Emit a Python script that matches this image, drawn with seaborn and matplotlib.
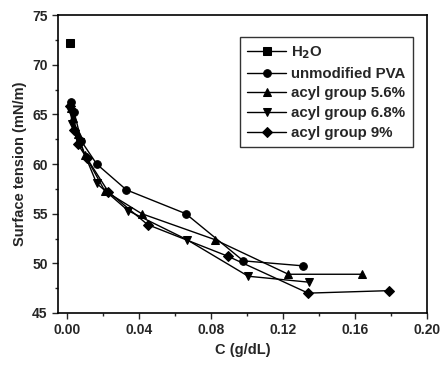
import numpy as np
import pandas as pd
import matplotlib
matplotlib.use("Agg")
import matplotlib.pyplot as plt
import seaborn as sns
from matplotlib.ticker import MultipleLocator

# values
h2o_c = [0.0015]
h2o_st = [72.2]

pva_c = [0.0025, 0.004, 0.008, 0.0165, 0.033, 0.066, 0.098, 0.131]
pva_st = [66.2, 65.2, 62.3, 60.0, 57.4, 55.0, 50.25, 49.75]

acyl56_c = [0.002, 0.0035, 0.006, 0.010, 0.021, 0.0415, 0.082, 0.123, 0.164]
acyl56_st = [65.6, 64.6, 63.0, 60.9, 57.3, 55.0, 52.4, 48.9, 48.9]

acyl68_c = [0.002, 0.003, 0.007, 0.0165, 0.034, 0.0665, 0.1007, 0.1346]
acyl68_st = [65.2, 64.0, 62.2, 58.05, 55.3, 52.4, 48.7, 48.1]

acyl9_c = [0.0018, 0.004, 0.006, 0.011, 0.023, 0.0448, 0.0896, 0.134, 0.179]
acyl9_st = [65.8, 63.4, 62.0, 60.6, 57.2, 53.9, 50.7, 47.0, 47.25]

series = [
    ("H$_2$O", h2o_c, h2o_st, "s"),
    ("unmodified PVA", pva_c, pva_st, "o"),
    ("acyl group 5.6%", acyl56_c, acyl56_st, "^"),
    ("acyl group 6.8%", acyl68_c, acyl68_st, "v"),
    ("acyl group 9%", acyl9_c, acyl9_st, "D"),
]

sns.set_style("ticks")
plt.rcParams["font.family"] = ["Liberation Sans", "DejaVu Sans"]
plt.rcParams["font.weight"] = "bold"

fig = plt.figure(figsize=(4.41, 3.68), dpi=100)
ax = fig.add_axes([0.1315, 0.1495, 0.8365, 0.8095])

for name, c, st, m in series:
    df = pd.DataFrame({"c": c, "st": st})
    ms = 5 if m == "D" else 5.5
    sns.lineplot(data=df, x="c", y="st", ax=ax, color="black", lw=1,
                 marker=m, markersize=ms, markeredgecolor="black",
                 label=name)

ax.set_xlim(-0.005, 0.2)
ax.set_ylim(45, 75)
ax.xaxis.set_major_locator(MultipleLocator(0.04))
ax.xaxis.set_minor_locator(MultipleLocator(0.02))
ax.yaxis.set_major_locator(MultipleLocator(5))
ax.yaxis.set_minor_locator(MultipleLocator(2.5))
ax.xaxis.set_major_formatter(plt.FuncFormatter(lambda v, p: f"{v:.2f}"))
ax.tick_params(which="major", direction="out", length=4, width=1,
               labelsize=10)
ax.tick_params(which="minor", direction="out", length=2, width=1)
for s in ax.spines.values():
    s.set_linewidth(1.2)
    s.set_color("black")

ax.set_xlabel("C (g/dL)", fontsize=10.5, fontweight="bold")
ax.set_ylabel("Surface tension (mN/m)", fontsize=10.5, fontweight="bold")

leg = ax.legend(loc="upper right", bbox_to_anchor=(0.982, 0.952),
                fontsize=10.8, frameon=True, fancybox=False,
                handlelength=2.6, handletextpad=0.3, labelspacing=0.38,
                borderpad=0.5)
leg.get_frame().set_edgecolor("black")
leg.get_frame().set_linewidth(1)
for t in leg.get_texts():
    t.set_fontweight("bold")

fig.savefig("out.png", dpi=100)
